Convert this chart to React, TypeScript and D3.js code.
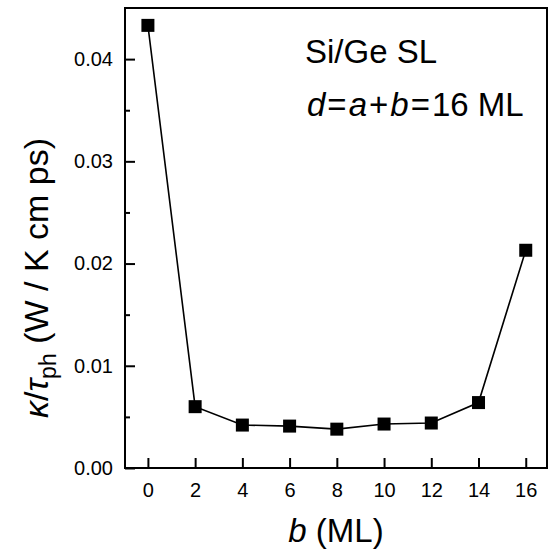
import React, { useEffect, useRef } from 'react'
import * as d3 from 'd3'

// b (ML) values and kappa / tau_ph
const bValues = [0, 2, 4, 6, 8, 10, 12, 14, 16]
const kappaOverTau = [0.0433, 0.0060, 0.0042, 0.0041, 0.0038, 0.0043, 0.0044, 0.0064, 0.0213]
const xTicks = [0, 2, 4, 6, 8, 10, 12, 14, 16]
const yTicks = [0, 0.01, 0.02, 0.03, 0.04]
const yMinorTicks = [0.005, 0.015, 0.025, 0.035]

const FONT = "'Liberation Sans', Arial, Helvetica, sans-serif"

function App() {
  const ref = useRef<SVGSVGElement>(null)

  useEffect(() => {
    const svg = d3.select(ref.current)
    svg.selectAll('*').remove()

    const width = 549
    const height = 552
    const margin = { top: 8, right: 2, bottom: 84, left: 125 }

    svg.attr('width', width).attr('height', height)

    const x = d3.scaleLinear()
      .domain([-0.97, 16.9])
      .range([margin.left, width - margin.right])
    const y = d3.scaleLinear()
      .domain([0, 0.045])
      .range([height - margin.bottom, margin.top])

    const data = bValues.map((b, i) => ({ b, v: kappaOverTau[i] }))

    // frame
    svg.append('rect')
      .attr('x', margin.left)
      .attr('y', margin.top)
      .attr('width', width - margin.right - margin.left)
      .attr('height', height - margin.bottom - margin.top)
      .attr('fill', 'none')
      .attr('stroke', '#000')
      .attr('stroke-width', 2)

    // x axis (ticks inside)
    const xAxis = svg.append('g')
      .attr('transform', `translate(0,${height - margin.bottom})`)
      .call(d3.axisBottom(x).tickValues(xTicks).tickSizeInner(-10).tickSizeOuter(0).tickPadding(15))
    xAxis.select('.domain').remove()
    xAxis.selectAll('line').attr('stroke-width', 2)
    xAxis.selectAll('text')
      .attr('font-family', FONT)
      .attr('font-size', 20)
      .attr('fill', '#000')

    // y axis major ticks
    const yAxis = svg.append('g')
      .attr('transform', `translate(${margin.left},0)`)
      .call(d3.axisLeft(y).tickValues(yTicks).tickFormat(d3.format('.2f')).tickSizeInner(-10).tickSizeOuter(0).tickPadding(12))
    yAxis.select('.domain').remove()
    yAxis.selectAll('line').attr('stroke-width', 2)
    yAxis.selectAll('text')
      .attr('font-family', FONT)
      .attr('font-size', 20)
      .attr('fill', '#000')

    // y minor ticks
    svg.append('g')
      .attr('transform', `translate(${margin.left},0)`)
      .call(d3.axisLeft(y).tickValues(yMinorTicks).tickSizeInner(-5).tickSizeOuter(0).tickFormat(() => ''))
      .call(g => g.select('.domain').remove())
      .selectAll('line').attr('stroke-width', 2)

    // line
    const line = d3.line<{ b: number; v: number }>()
      .x(d => x(d.b))
      .y(d => y(d.v))
    svg.append('path')
      .datum(data)
      .attr('d', line)
      .attr('fill', 'none')
      .attr('stroke', '#000')
      .attr('stroke-width', 1.6)

    // square markers
    const size = 13
    svg.selectAll('rect.pt')
      .data(data)
      .enter()
      .append('rect')
      .attr('class', 'pt')
      .attr('x', d => x(d.b) - size / 2)
      .attr('y', d => y(d.v) - size / 2)
      .attr('width', size)
      .attr('height', size)
      .attr('fill', '#000')

    // annotations
    svg.append('text')
      .attr('x', 305)
      .attr('y', 63)
      .attr('font-family', FONT)
      .attr('font-size', 33)
      .text('Si/Ge SL')

    const eq = svg.append('text')
      .attr('x', 307)
      .attr('y', 116)
      .attr('font-family', FONT)
      .attr('font-size', 33)
    eq.append('tspan').attr('font-style', 'italic').text('d')
    eq.append('tspan').attr('dx', 2).text('=')
    eq.append('tspan').attr('dx', 2).attr('font-style', 'italic').text('a')
    eq.append('tspan').attr('dx', 2).text('+')
    eq.append('tspan').attr('dx', 2).attr('font-style', 'italic').text('b')
    eq.append('tspan').attr('dx', 2).text('=')
    eq.append('tspan').attr('dx', 2).text('16 ML')

    // x axis label
    const xl = svg.append('text')
      .attr('x', (margin.left + width - margin.right) / 2)
      .attr('y', 542)
      .attr('text-anchor', 'middle')
      .attr('font-family', FONT)
      .attr('font-size', 33)
    xl.append('tspan').attr('font-style', 'italic').text('b')
    xl.append('tspan').text(' (ML)')

    // y axis label
    const yl = svg.append('text')
      .attr('transform', `translate(48,278) rotate(-90)`)
      .attr('text-anchor', 'middle')
      .attr('font-family', FONT)
      .attr('font-size', 34)
    yl.append('tspan').attr('font-style', 'italic').text('κ')
    yl.append('tspan').text('/')
    yl.append('tspan').attr('font-style', 'italic').text('τ')
    yl.append('tspan').attr('font-size', 23).attr('dy', 8).text('ph')
    yl.append('tspan').attr('dy', -8).text(' (W / K cm ps)')
  }, [])

  return (
    <svg ref={ref} style={{ position: 'absolute', left: 0, top: 0, background: '#fff' }}></svg>
  )
}

export default App
